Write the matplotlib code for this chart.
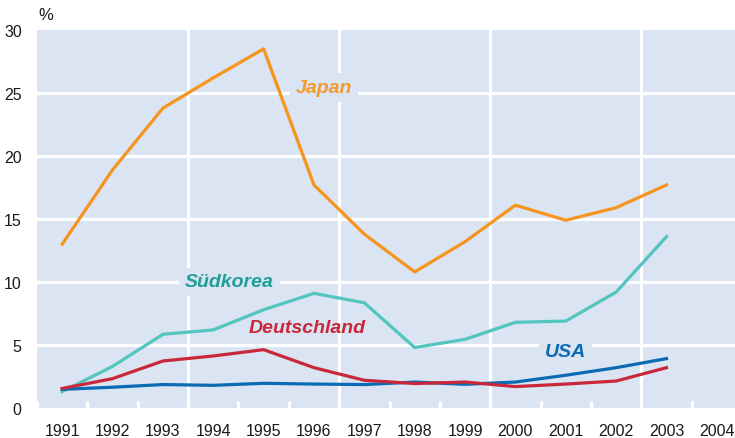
import numpy as np
import matplotlib.pyplot as plt
from matplotlib.ticker import MultipleLocator

plt.rcParams["font.family"] = ["Liberation Sans", "DejaVu Sans"]

years = np.arange(1991, 2004)
japan = [13.0, 18.9, 23.8, 26.2, 28.5, 17.7, 13.8, 10.8, 13.2, 16.1, 14.9, 15.9, 17.7]
suedkorea = [1.3, 3.3, 5.85, 6.2, 7.8, 9.1, 8.35, 4.8, 5.45, 6.8, 6.9, 9.2, 13.6]
deutschland = [1.55, 2.33, 3.73, 4.13, 4.63, 3.2, 2.2, 1.94, 2.06, 1.7, 1.9, 2.14, 3.2]
usa = [1.48, 1.65, 1.86, 1.8, 1.96, 1.9, 1.86, 2.06, 1.88, 2.06, 2.6, 3.2, 3.92]
tick_years = np.arange(1991, 2005)

bg = "#dae4f3"
fig = plt.figure(figsize=(7.35, 4.39), dpi=100)
ax = fig.add_axes([37 / 735, 30 / 439, 698 / 735, 378 / 439])
ax.set_facecolor(bg)
for s in ax.spines.values():
    s.set_visible(False)

ax.set_xlim(1990.5, 2004.36)
ax.set_ylim(0, 30)

# white grid
for y in [5, 10, 15, 20, 25]:
    ax.axhline(y, color="white", lw=2.3, zorder=1)
for x in [1993.5, 1996.5, 1999.5, 2002.5]:
    ax.axvline(x, color="white", lw=2.3, zorder=1)

ax.plot(years, japan, color="#f7941d", lw=2.3, zorder=3)
ax.plot(years, suedkorea, color="#52c5bf", lw=2.3, zorder=3)
ax.plot(years, usa, color="#0a6ab4", lw=2.3, zorder=3)
ax.plot(years, deutschland, color="#c8283a", lw=2.3, zorder=4)

ax.set_xticks(tick_years)
ax.set_xticklabels([str(y) for y in tick_years])
ax.xaxis.set_minor_locator(MultipleLocator(1, offset=0.5))
ax.set_yticks([0, 5, 10, 15, 20, 25, 30])
ax.tick_params(axis="both", which="major", length=0, labelsize=11.5, colors="#1a1a1a")
ax.tick_params(axis="x", which="major", pad=11)
ax.tick_params(axis="y", which="major", pad=11)
ax.tick_params(axis="x", which="minor", direction="in", length=5, width=2.3, color="white")

label_kw = dict(fontsize=14, fontweight="bold", fontstyle="italic", ha="center", va="center", zorder=5)
box = dict(boxstyle="square,pad=0.3", facecolor=bg, edgecolor="none")
ax.text(1996.19, 25.45, "Japan", color="#f39a2b", bbox=box, **label_kw)
ax.text(1994.32, 10.0, "Südkorea", color="#1f9e98", bbox=box, **label_kw)
ax.text(1995.86, 6.35, "Deutschland", color="#c8283a", **label_kw)
ax.text(2000.99, 4.5, "USA", color="#0a6ab4", bbox=box, **label_kw)

fig.text(46 / 735, 1 - 15 / 439, "%", fontsize=12, color="#1a1a1a", ha="center", va="center")

fig.savefig("out.png", dpi=100)
